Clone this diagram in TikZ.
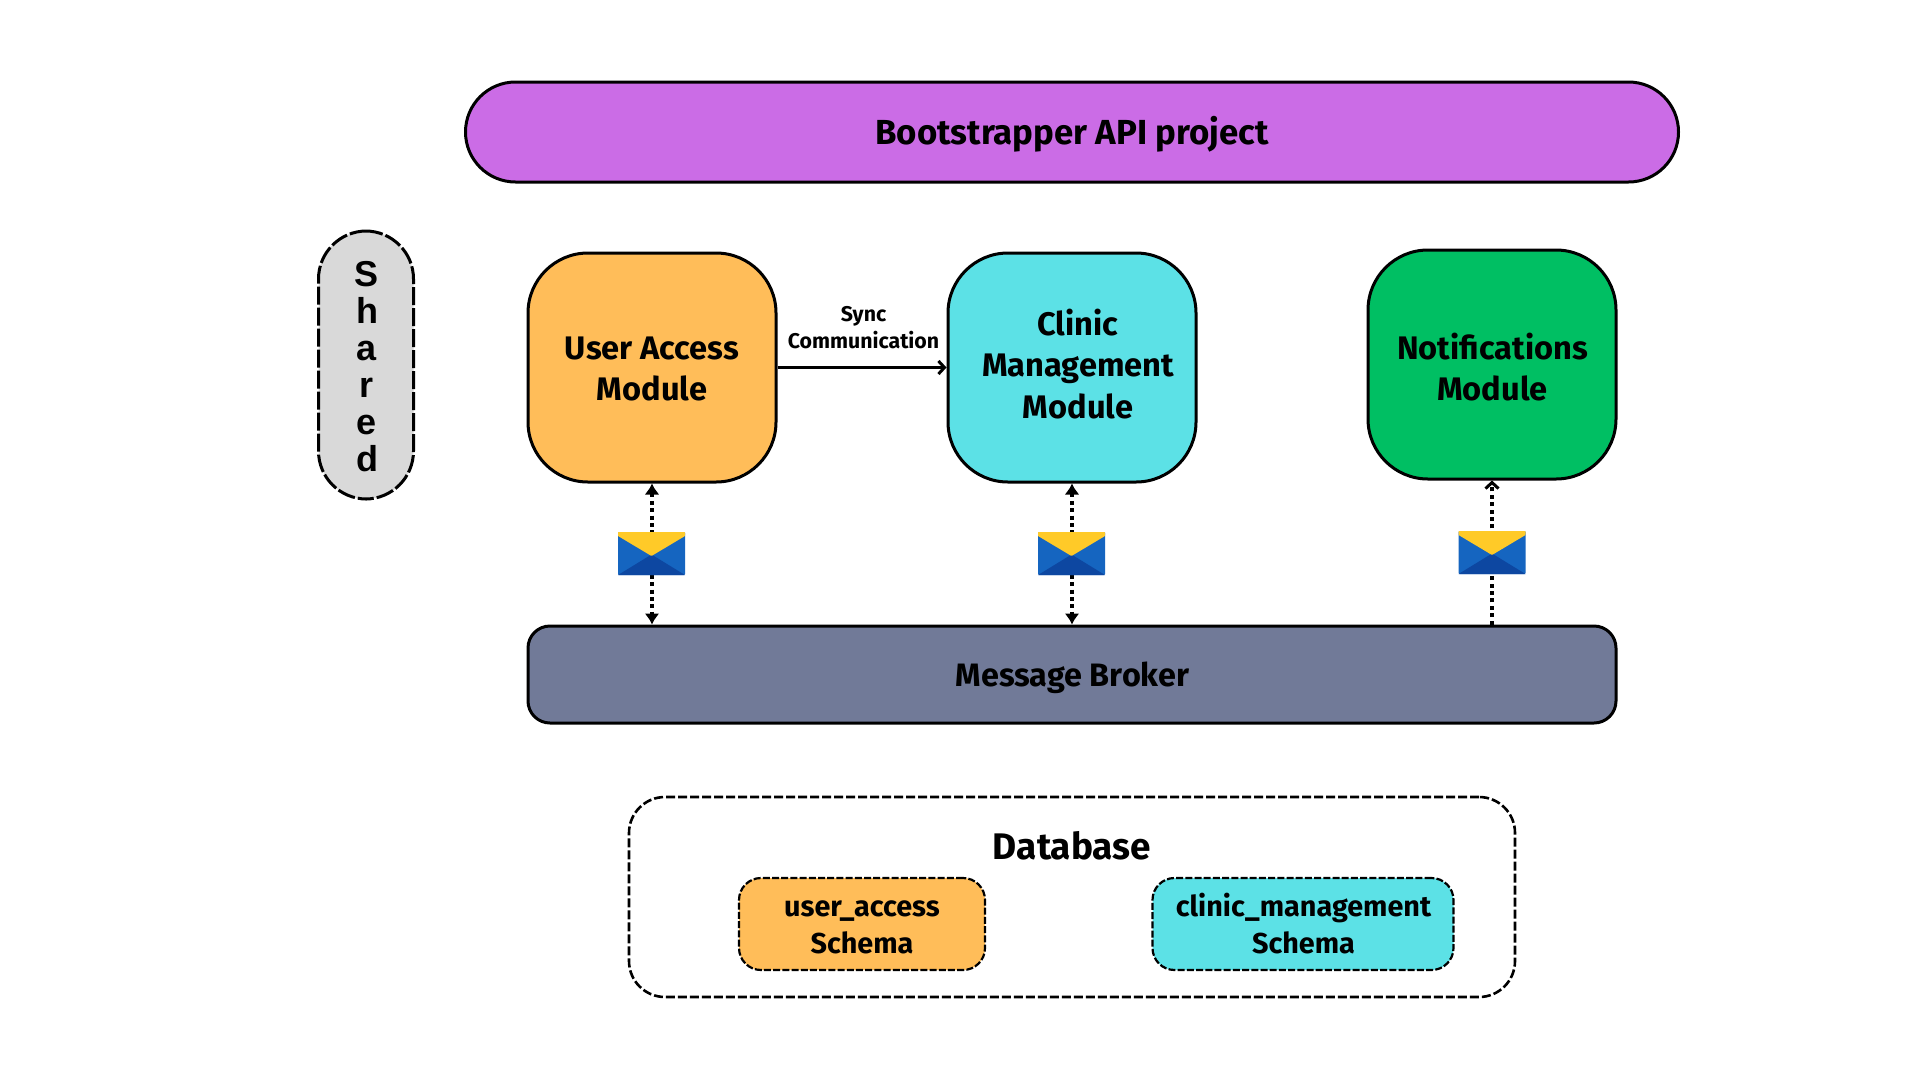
\documentclass[tikz,border=0pt]{standalone}
\usepackage{fontspec}
\setmainfont{Fira Sans}
\newfontfamily\sharedfont{Liberation Sans}
\usetikzlibrary{arrows.meta,calc}
\definecolor{cpurple}{HTML}{CB6CE6}
\definecolor{corange}{HTML}{FFBD59}
\definecolor{ccyan}{HTML}{5CE1E6}
\definecolor{cgreen}{HTML}{00BF63}
\definecolor{cslate}{HTML}{717A98}
\definecolor{cgrey}{HTML}{D9D9D9}
\definecolor{envblue}{HTML}{1565C0}
\definecolor{envdark}{HTML}{0D47A1}
\definecolor{envyellow}{HTML}{FFCA28}
\newcommand{\fs}[2]{\fontsize{#1}{#2}\selectfont\bfseries}
\tikzset{
  x=1pt,y=-1pt,
  box/.style={draw=black,line width=3pt,align=center,inner sep=0pt,text=black},
  module/.style={box,rounded corners=60pt,minimum width=248pt,minimum height=229pt},
  modtext/.style={font=\fs{32.6}{41.6},align=center,text=black,inner sep=0pt},
  schema/.style={box,line width=2.2pt,dash pattern=on 7pt off 2.2pt,rounded corners=22pt,minimum height=92pt},
  schematext/.style={font=\fs{28.8}{37},align=center,text=black,inner sep=0pt},
  envelope/.style={inner sep=0pt,minimum width=67pt,minimum height=43pt,
    path picture={
      \fill[envblue,rounded corners=1pt] (path picture bounding box.south west) rectangle (path picture bounding box.north east);
      \fill[envdark] (path picture bounding box.south west) -- ($(path picture bounding box.center)+(0,-1pt)$) -- (path picture bounding box.south east) -- cycle;
      \fill[envyellow,rounded corners=0.6pt] (path picture bounding box.north west) -- ($(path picture bounding box.north west)+(0,-4pt)$) -- ($(path picture bounding box.north)+(0,-24pt)$) -- ($(path picture bounding box.north east)+(0,-4pt)$) -- (path picture bounding box.north east) -- cycle;
    }},
  dotline/.style={line width=3.4pt,dash pattern=on 4pt off 3.4pt},
  headsolid/.tip={Latex[length=11pt,width=15pt]},
  headopen/.tip={Straight Barb[length=6pt,width=13pt,line width=3pt]},
}
\begin{document}
\begin{tikzpicture}
\useasboundingbox (0,0) rectangle (1920,1080);
\fill[white] (0,0) rectangle (1920,1080);

\node[box,fill=cpurple,rounded corners=50pt,minimum width=1213pt,minimum height=100pt] (boot) at (1072,132) {};
\node[font=\fs{34.8}{40},text=black,inner sep=0pt] (boottext) at (1072,134.5) {Bootstrapper API project};

\node[box,fill=cgrey,dash pattern=on 18pt off 3pt,rounded corners=48pt,minimum width=95pt,minimum height=268pt] (shared) at (366,365) {};
\node[font=\sharedfont\fs{36}{37},align=center,text=black,inner sep=0pt] (sharedtext) at (367,366.5) {S\\h\\a\\r\\e\\d};

\node[module,fill=corange] (ua) at (652,367.5) {};
\node[modtext] (uatext) at (652,369) {User Access\\Module};
\node[module,fill=ccyan] (clinic) at (1072,367.5) {};
\node[modtext] (clinictext) at (1078,364) {Clinic\\Management\\Module};
\node[module,fill=cgreen] (notif) at (1492,364.5) {};
\node[modtext] (notiftext) at (1492.5,367) {Notifications\\Module};

\node[box,fill=cslate,rounded corners=22pt,minimum width=1088pt,minimum height=97pt] (broker) at (1072,674.5) {};
\node[font=\fs{32.4}{36},text=black,inner sep=0pt] (brokertext) at (1072.5,678) {Message Broker};

\node[box,dash pattern=on 9pt off 3pt,line width=2.6pt,rounded corners=36pt,minimum width=886pt,minimum height=200pt] (db) at (1072,897) {};
\node[font=\fs{37}{40},text=black,inner sep=0pt] (dbtext) at (1072,845.5) {Database};
\node[schema,fill=corange,minimum width=246pt] (s1) at (862,924) {};
\node[schematext] (s1text) at (862,927) {user\_access\\Schema};
\node[schema,fill=ccyan,minimum width=301pt] (s2) at (1303,924) {};
\node[schematext] (s2text) at (1303.5,924) {clinic\_management\\Schema};

% connectors
\draw[line width=3pt,-{headopen}] (ua.east) -- (ua.east -| clinic.west);
\node[font=\fs{21.3}{27},align=center,text=black,inner sep=0pt] (sync) at (863.5,327.5) {Sync\\Communication};

\draw[dotline,{headsolid}-{headsolid}] (ua.south) -- (ua.south |- broker.north);
\draw[dotline,{headsolid}-{headsolid}] (clinic.south) -- (clinic.south |- broker.north);
\draw[dotline,-{headopen}] (notif.south |- broker.north) -- (notif.south);

\node[envelope] (env1) at (651.5,553.5) {};
\node[envelope] (env2) at (1071.5,553.5) {};
\node[envelope] (env3) at (1492,552.5) {};
\end{tikzpicture}
\end{document}
